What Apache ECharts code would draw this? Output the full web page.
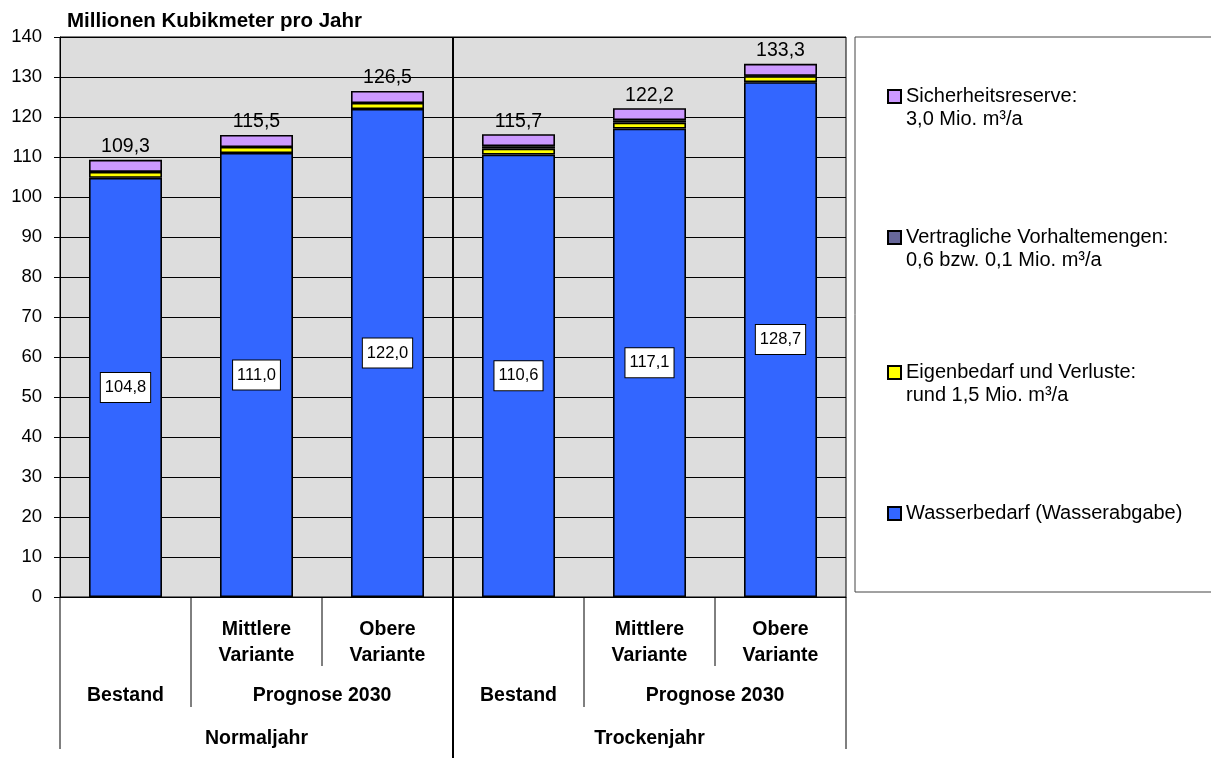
<!DOCTYPE html>
<html>
<head>
<meta charset="utf-8">
<script src="https://cdn.jsdelivr.net/npm/echarts@6/dist/echarts.min.js"></script>
<style>
  html, body { margin: 0; padding: 0; background: #fff; }
  #chart { width: 1211px; height: 758px; }
</style>
</head>
<body>
<div id="chart"></div>
<script>
// Categories: three cases per year type
const categories = ['N-Bestand', 'N-Mittlere', 'N-Obere', 'T-Bestand', 'T-Mittlere', 'T-Obere'];
const variantLabels = ['', 'Mittlere\nVariante', 'Obere\nVariante', '', 'Mittlere\nVariante', 'Obere\nVariante'];
const periodGroups = [
  { label: 'Bestand', from: 0, to: 0 },
  { label: 'Prognose 2030', from: 1, to: 2 },
  { label: 'Bestand', from: 3, to: 3 },
  { label: 'Prognose 2030', from: 4, to: 5 }
];
const yearGroups = [
  { label: 'Normaljahr', from: 0, to: 2 },
  { label: 'Trockenjahr', from: 3, to: 5 }
];

// Series values (Mio. m³/a)
const wasserbedarf   = [104.8, 111.0, 122.0, 110.6, 117.1, 128.7];
const eigenbedarf    = [1.5, 1.5, 1.5, 1.5, 1.5, 1.5];
const vorhaltemengen = [0, 0, 0, 0.6, 0.6, 0.1];
const reserve        = [3.0, 3.0, 3.0, 3.0, 3.0, 3.0];

// Y axis scale
const yMin = 0, yMax = 140, yStep = 10;

const names = {
  wasser: 'Wasserbedarf (Wasserabgabe)',
  eigen: 'Eigenbedarf und Verluste:\nrund 1,5 Mio. m³/a',
  vorhalt: 'Vertragliche Vorhaltemengen:\n0,6 bzw. 0,1 Mio. m³/a',
  reserve: 'Sicherheitsreserve:\n3,0 Mio. m³/a'
};

const fmt = v => v.toFixed(1).replace('.', ',');
const totals = categories.map((_, i) => wasserbedarf[i] + eigenbedarf[i] + vorhaltemengen[i] + reserve[i]);

const FONT = '"Liberation Sans", Arial, sans-serif';
const border = { borderColor: '#000', borderWidth: 1.6 };

const chart = echarts.init(document.getElementById('chart'), null, { renderer: 'canvas' });

// One legend block per series so each entry sits at its own height;
// a leading blank line keeps the swatch level with the first text line.
function legendFor(name, top) {
  return {
    data: [name],
    orient: 'vertical',
    left: 887,
    top: top,
    padding: 0,
    itemWidth: 13,
    itemHeight: 13,
    itemGap: 0,
    icon: 'rect',
    selectedMode: false,
    formatter: n => (n.indexOf('\n') >= 0 ? '\n' + n : n),
    textStyle: { fontSize: 20, lineHeight: 23, color: '#000', fontFamily: FONT }
  };
}

const option = {
  animation: false,
  backgroundColor: '#fff',
  textStyle: { fontFamily: FONT },
  title: {
    text: 'Millionen Kubikmeter pro Jahr',
    left: 67, top: 11, padding: 0,
    textStyle: { fontSize: 20.5, fontWeight: 'bold', color: '#000', fontFamily: FONT }
  },
  grid: {
    left: 60, top: 37, right: 365, bottom: 161,
    show: true, backgroundColor: '#DDDDDD', borderColor: '#000', borderWidth: 1
  },
  legend: [
    legendFor(names.reserve, 62),
    legendFor(names.vorhalt, 203),
    legendFor(names.eigen, 338),
    legendFor(names.wasser, 502)
  ],
  xAxis: {
    type: 'category',
    data: categories,
    axisLine: { lineStyle: { color: '#000', width: 1 } },
    axisTick: { show: false },
    axisLabel: {
      margin: 20,
      interval: 0,
      formatter: (v, i) => variantLabels[i],
      fontSize: 19.5, fontWeight: 'bold', lineHeight: 26, color: '#000', fontFamily: FONT
    }
  },
  yAxis: {
    type: 'value',
    min: yMin, max: yMax, interval: yStep,
    axisLine: { show: true, lineStyle: { color: '#000' } },
    axisTick: { show: true, length: 6, lineStyle: { color: '#000' } },
    axisLabel: { margin: 18, fontSize: 18.5, color: '#000', fontFamily: FONT },
    splitLine: { lineStyle: { color: '#000', width: 1 } }
  },
  series: [
    {
      name: names.wasser, type: 'bar', stack: 'total', barWidth: 73,
      data: wasserbedarf,
      itemStyle: Object.assign({ color: '#3366FF' }, border),
      label: {
        show: true, position: 'inside', formatter: p => fmt(p.value),
        color: '#000', fontSize: 16.5, lineHeight: 18, fontFamily: FONT,
        backgroundColor: '#fff', borderColor: '#000', borderWidth: 1, padding: [6, 4, 5, 4]
      }
    },
    {
      name: names.eigen, type: 'bar', stack: 'total', barWidth: 73,
      data: eigenbedarf,
      itemStyle: Object.assign({ color: '#FFFF00' }, border)
    },
    {
      name: names.vorhalt, type: 'bar', stack: 'total', barWidth: 73,
      data: vorhaltemengen,
      itemStyle: Object.assign({ color: '#666699' }, border)
    },
    {
      name: names.reserve, type: 'bar', stack: 'total', barWidth: 73,
      data: reserve,
      itemStyle: Object.assign({ color: '#CC99FF' }, border),
      label: {
        show: true, position: 'top', distance: 3,
        formatter: p => fmt(totals[p.dataIndex]),
        color: '#000', fontSize: 19.5, fontFamily: FONT
      }
    }
  ]
};

chart.setOption(option);

// Category separators and the grouped axis labels below the plot
function drawGroups() {
  const c0 = chart.convertToPixel({ xAxisIndex: 0 }, 0);
  const c1 = chart.convertToPixel({ xAxisIndex: 0 }, 1);
  const band = c1 - c0;
  const edge = i => c0 - band / 2 + i * band;   // left boundary of category i
  const yTop = chart.convertToPixel({ yAxisIndex: 0 }, yMax);
  const yBase = chart.convertToPixel({ yAxisIndex: 0 }, yMin);
  const H = chart.getHeight();

  const rowVariantEnd = yBase + 69;
  const rowPeriodEnd = yBase + 110;
  const rowYearEnd = yBase + 152;

  const els = [];
  const vline = (x, y1, y2, w) => els.push({
    type: 'line', z: 50,
    shape: { x1: x, y1: y1, x2: x, y2: y2 },
    style: { stroke: '#000', lineWidth: w }
  });

  // boundaries between variants
  vline(edge(2), yBase, rowVariantEnd, 1);
  vline(edge(5), yBase, rowVariantEnd, 1);
  // boundaries between Bestand and Prognose
  vline(edge(1), yBase, rowPeriodEnd, 1);
  vline(edge(4), yBase, rowPeriodEnd, 1);
  // outer edges
  vline(edge(0), yBase, rowYearEnd, 1);
  vline(edge(6), yBase, rowYearEnd, 1);
  // divider between year types
  vline(edge(3), yTop, H, 2);

  const text = (label, x, y) => els.push({
    type: 'text', z: 50, x: x, y: y,
    style: {
      text: label, fill: '#000', font: 'bold 19.5px ' + FONT,
      align: 'center', verticalAlign: 'middle'
    }
  });
  periodGroups.forEach(g => text(g.label, (edge(g.from) + edge(g.to + 1)) / 2, yBase + 99));
  yearGroups.forEach(g => text(g.label, (edge(g.from) + edge(g.to + 1)) / 2, yBase + 142));

  // legend frame
  els.push({
    type: 'rect', z: -1,
    shape: { x: edge(6) + 9, y: yTop, width: 400, height: 555 },
    style: { fill: '#fff', stroke: '#444', lineWidth: 1 }
  });

  chart.setOption({ graphic: els });
}
drawGroups();
</script>
</body>
</html>
